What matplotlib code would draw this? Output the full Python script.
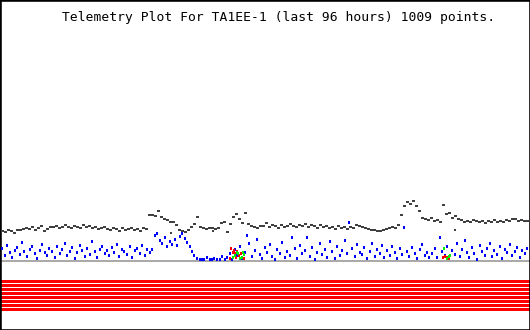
import numpy as np
import matplotlib
matplotlib.use("Agg")
import matplotlib.pyplot as plt

# ---------------- data ----------------
title = "Telemetry Plot For TA1EE-1 (last 96 hours) 1009 points."
hours_span = 96

# black channel, evenly sampled over the 96 hours
black_vals = [
    30, 29, 31, 30, 28,
    31, 31, 32, 33, 32, 34, 31, 33, 35, 30, 32, 34,
    34, 35, 33, 34, 36, 34, 33, 35, 34, 33, 36, 34, 35, 33, 34, 32,
    33, 34, 32, 31, 33, 32, 30, 33, 31, 32, 33, 31, 32, 30, 33, 32,
    46, 46, 45, 50, 44, 42, 41, 39, 39, 36,
    31, 30, 29, 31, 34, 37, 44, 34, 33, 32, 33, 33, 32, 33,
    38, 39, 29, 37, 44, 47, 42, 38, 48, 37, 35, 34, 33, 35,
    35, 38, 34, 36, 35, 33, 36, 34, 35, 37, 35, 34, 36, 35, 37, 34,
    36, 35, 33, 36, 34, 35, 33, 34, 32, 35, 33, 34, 32, 34,
    33, 36, 35, 34, 33, 32, 31, 31, 30, 30, 31, 32, 33, 34, 33, 36,
    46, 55, 59, 57, 60, 55, 50,
    43, 42, 41, 43, 40, 41, 39, 56, 47, 48, 43, 45, 42,
    41, 39, 40, 39, 41, 40, 39, 40, 38, 40, 39, 41, 39, 40, 39, 41,
    40, 42, 42, 40, 41, 40, 40,
]
# a few stray black readings (hour, value)
black_extra_t = [30.9, 38.6, 41.2, 82.8]
black_extra_v = [28, 30, 29, 31]

# blue channel, evenly sampled over the 96 hours
blue_vals = [
    13, 6, 16, 9, 4, 11, 14, 7, 19, 10, 5, 12, 15, 8, 3, 11, 17, 9, 6, 13,
    10, 4, 15, 8, 12, 18, 6, 10, 14, 3, 9, 16, 11, 5, 13, 7, 20, 10, 4, 12,
    15, 8, 11, 6, 14, 9, 17, 5, 12, 10, 7, 15, 4, 11, 13, 8, 16, 6, 12, 9,
    12, 26, 28, 21, 18, 24, 15, 20, 17, 22, 16, 25, 28, 23, 19, 15, 10, 6,
    3, 2, 2, 2, 4, 2, 2, 3, 2, 2, 5, 2,
    4, 8, 2, 12, 6, 15, 3, 9, 26, 18, 5, 11, 22, 7, 3, 14, 9, 17, 5, 2,
    12, 8, 19, 4, 10, 6, 24, 13, 3, 16, 8, 11, 24, 5, 14, 2, 9, 18, 7, 12,
    4, 20, 10, 3, 15, 6, 11, 21, 8, 39, 13, 5, 17, 9,
    7, 14, 3, 10, 18, 5, 12, 8, 16, 4, 11, 6, 15, 9, 3, 13, 7, 34, 10, 5,
    14, 8, 3, 12, 17, 6, 9, 4,
    8, 13, 4, 24, 10, 6, 15, 3, 11, 7, 18, 5, 12, 21, 9, 4, 14, 8, 2, 16,
    10, 6, 13, 18, 5, 11, 7, 15, 3, 12, 9, 17, 6, 10, 14, 4, 11, 8, 13,
]

# red channel (hour, value)
red_t = [41.7, 41.9, 42.2, 42.4, 42.6, 42.8, 43.0, 43.3, 43.7, 44.3, 80.6, 81.0, 81.4, 81.7]
red_v = [3, 13, 9, 11, 8, 4, 10, 6, 8, 3, 4, 5, 4, 3]

# green channel (hour, value)
green_t = [42.2, 42.6, 43.0, 43.2, 43.5, 43.9, 44.1, 44.3, 80.8, 81.4, 81.7, 81.9]
green_v = [4, 6, 9, 8, 3, 4, 9, 7, 13, 3, 5, 6]

# status bar rows
status_rows = [0, 1, 2, 3, 4, 5, 6, 7]

# ---------------- figure ----------------
W, H, DPI = 530, 330, 100
fig = plt.figure(figsize=(W / DPI, H / DPI), dpi=DPI)
ax = fig.add_axes([0, 0, 1, 1])
ax.set_facecolor("white")

px_per_hour = 525 / hours_span
ax.set_xlim(-2 / px_per_hour, (W - 2) / px_per_hour)
ax.set_ylim(-69, 261)

# baseline
ax.axhspan(-1, 1, color="#aaaaaa", lw=0, zorder=1)

# status stripes
for k in status_rows:
    ax.axhspan(-22 - 4 * k, -19 - 4 * k, color="#ff0000", lw=0, zorder=1)

px = 72 / DPI
tall = [(-2 / 3, -1), (2 / 3, -1), (2 / 3, 1), (-2 / 3, 1), (-2 / 3, -1)]   # 2x3 px
wide = [(-1, -2 / 3), (1, -2 / 3), (1, 2 / 3), (-1, 2 / 3), (-1, -2 / 3)]   # 3x2 px

t_black = np.linspace(0, hours_span, len(black_vals))
t_blue = np.linspace(0, hours_span, len(blue_vals))

ax.plot(t_blue, blue_vals, ls="none", marker=tall, ms=3 * px, mew=0,
        color="#0000ff", antialiased=False, zorder=3)
ax.plot(t_black, black_vals, ls="none", marker=wide, ms=3 * px, mew=0,
        color="#404040", antialiased=False, zorder=4)
ax.plot(black_extra_t, black_extra_v, ls="none", marker="s", ms=2 * px, mew=0,
        color="#404040", antialiased=False, zorder=4)
ax.plot(red_t, red_v, ls="none", marker=tall, ms=3 * px, mew=0,
        color="#ff0000", antialiased=False, zorder=5)
ax.plot(green_t, green_v, ls="none", marker=tall, ms=3 * px, mew=0,
        color="#00ee00", antialiased=False, zorder=5)

ax.set_xticks([])
ax.set_yticks([])
for s in ax.spines.values():
    s.set_color("black")
    s.set_linewidth(2.6 * px)

fig.text(278.5 / W, 1 - 17 / H, title, ha="center", va="center",
         family="DejaVu Sans Mono", fontsize=9.4, color="black")

fig.savefig("out.png", dpi=DPI, facecolor="white")
